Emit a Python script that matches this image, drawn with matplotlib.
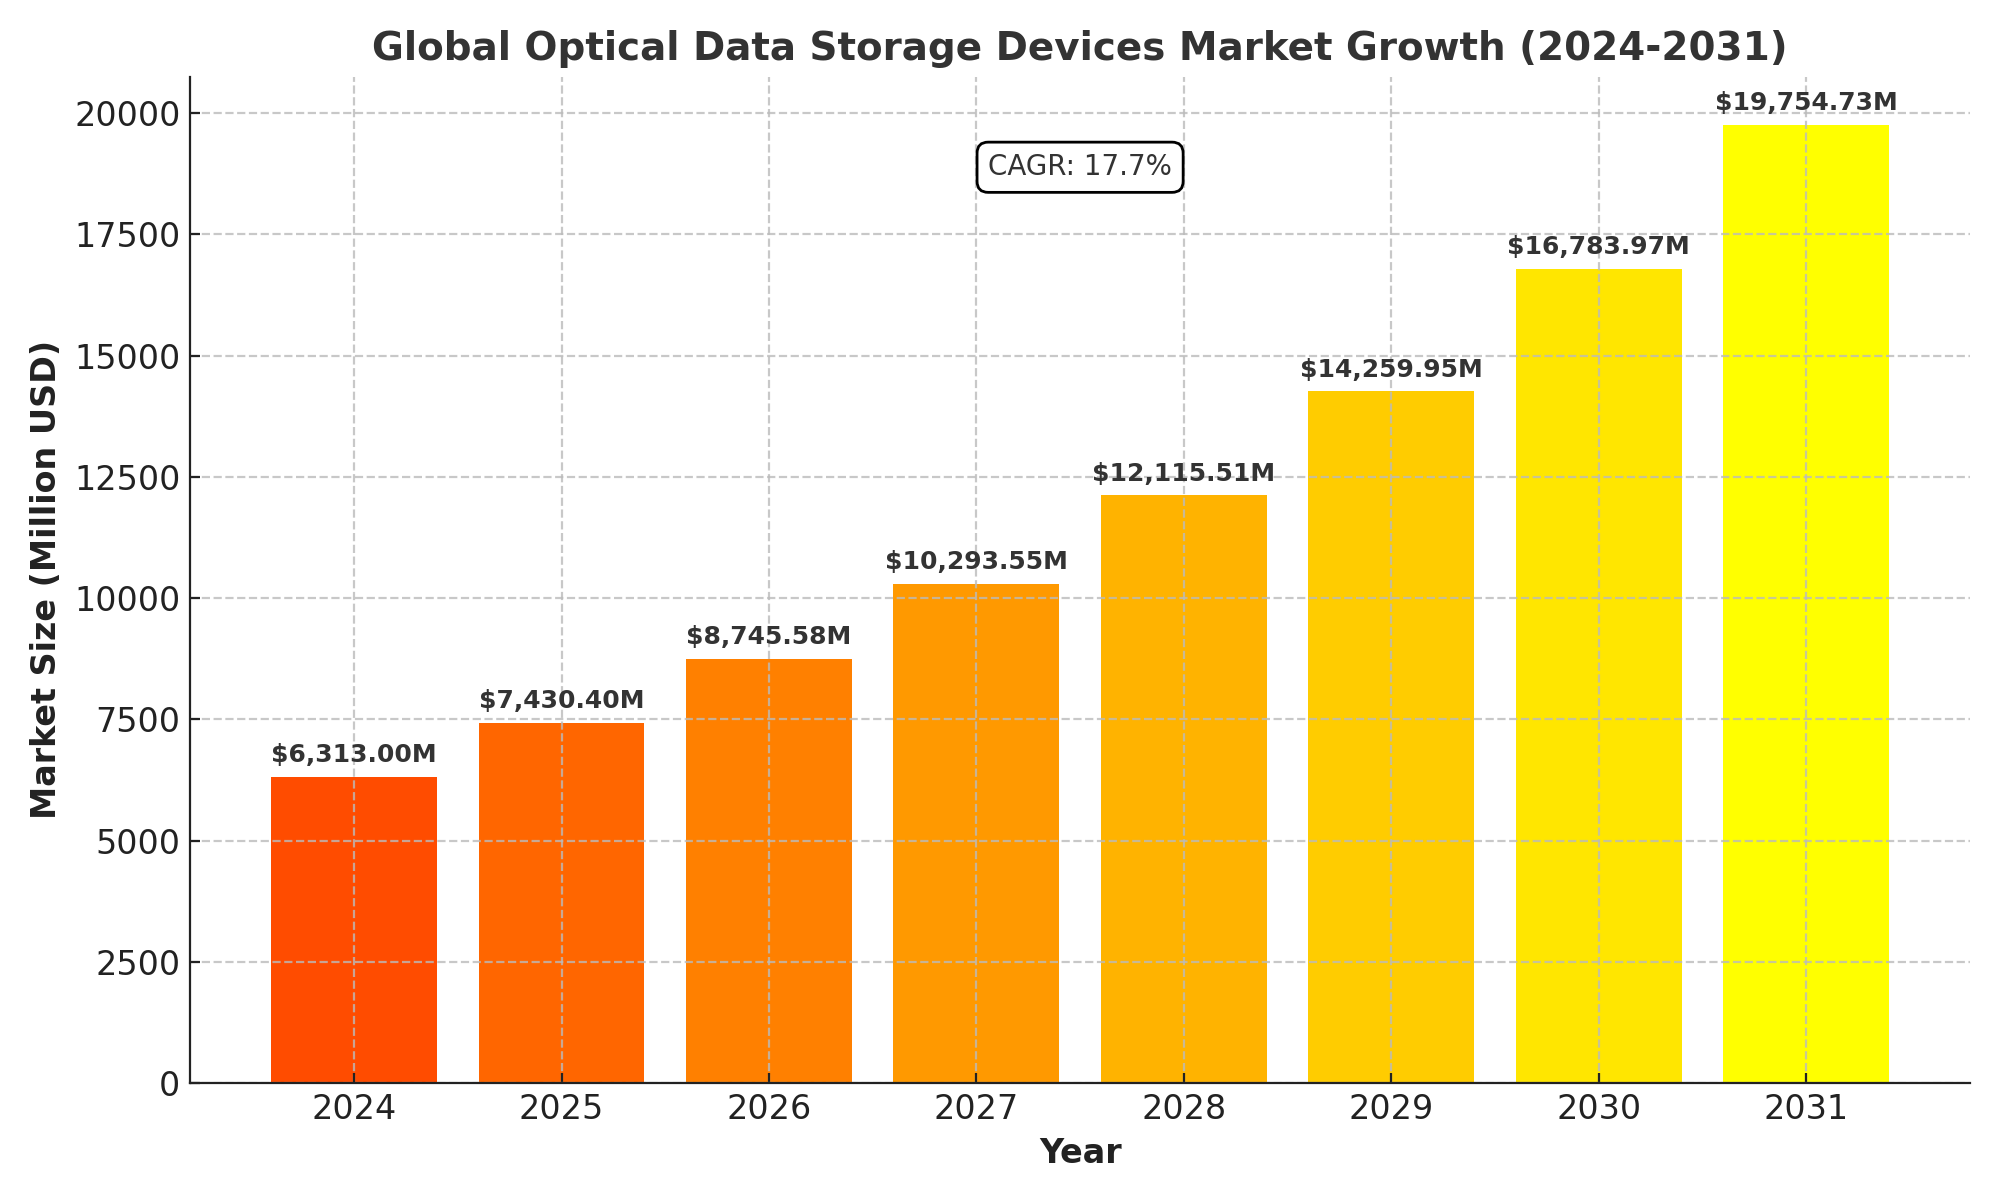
import numpy as np
import matplotlib
matplotlib.use('Agg')
from matplotlib import pyplot as plt

years = ['2024', '2025', '2026', '2027', '2028', '2029', '2030', '2031']
market_size = [6313.00, 7430.40, 8745.58, 10293.55, 12115.51, 14259.95, 16783.97, 19754.73]
cagr_text = 'CAGR: 17.7%'

colors = plt.cm.autumn(np.linspace(0.3, 1, len(years)))

fig, ax = plt.subplots(figsize=(10, 6), dpi=200)
x = np.arange(len(years))
bars = ax.bar(x, market_size, width=0.8, color=colors, zorder=2)

for b, v in zip(bars, market_size):
    ax.text(b.get_x() + b.get_width() / 2, v + 200, f'${v:,.2f}M',
            ha='center', va='bottom', fontsize=9, fontweight='bold', color='#333333')

ax.set_xticks(x)
ax.set_xticklabels(years)
ax.set_title('Global Optical Data Storage Devices Market Growth (2024-2031)',
             fontsize=14, fontweight='bold', color='#333333')
ax.set_xlabel('Year', fontsize=12, fontweight='bold', color='#222222')
ax.set_ylabel('Market Size (Million USD)', fontsize=12, fontweight='bold', color='#222222')
ax.tick_params(axis='both', direction='in', labelsize=12, colors='#222222')
ax.set_ylim(0, 20750)
ax.grid(True, linestyle='--', color='#bbbbbb', alpha=0.8, zorder=3)
ax.set_axisbelow(False)
for s in ['top', 'right']:
    ax.spines[s].set_visible(False)
for s in ['left', 'bottom']:
    ax.spines[s].set_color('#222222')
    ax.spines[s].set_zorder(5)

ax.text(0.5, 0.91, cagr_text, transform=ax.transAxes, ha='center', va='center',
        fontsize=10, color='#333333',
        bbox=dict(boxstyle='round,pad=0.4', facecolor='white', edgecolor='black'))

plt.tight_layout()
plt.savefig('out.png')
